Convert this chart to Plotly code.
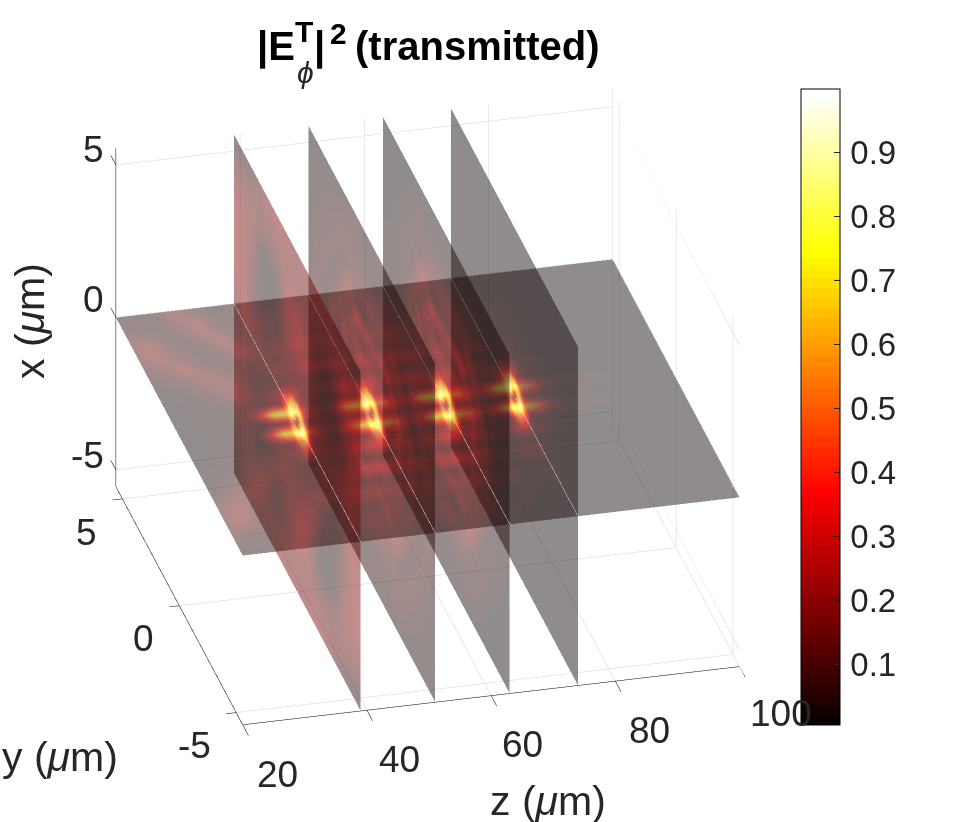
#!/usr/bin/env python3
"""|E_phi^T|^2 transmitted field: four z slices and the x=0 plane, hand-read from the picture."""
import numpy as np
import plotly.graph_objects as go

W, H = 959, 822

z_ticks = [20, 40, 60, 80, 100]
y_ticks = [5, 0, -5]
x_ticks = [5, 0, -5]
cbar_ticks = [0.1, 0.2, 0.3, 0.4, 0.5, 0.6, 0.7, 0.8, 0.9]
z_lim = [20, 100]
y_lim = [-5.57, 5.57]
x_lim = [-5.55, 5.55]
slice_z = [39, 51, 63, 74]

# nodes of the quarter of each slice (the pattern is mirrored about y=0 and x=0)
qy = [0, .45, .9, 1.4, 1.9, 2.4, 2.9, 3.4, 4, 4.7, 5.57]
qx = [0, .2, .4, .7, 1.2, 1.7, 2.2, 2.7, 3.3, 4.2, 5.55]

slice1 = [
    [.05, 1, .55, .14, .12, .1, .1, .12, .16, .2, .12],
    [.6, .95, .45, .12, .12, .1, .1, .12, .16, .18, .12],
    [1, .7, .2, .1, .12, .1, .1, .12, .16, .18, .12],
    [.35, .2, .12, .1, .1, .08, .08, .1, .14, .18, .14],
    [.12, .12, .12, .1, .08, .06, .06, .06, .1, .18, .18],
    [.14, .14, .14, .1, .06, .05, .04, .05, .1, .16, .2],
    [.2, .2, .16, .1, .05, .03, .03, .04, .1, .16, .2],
    [.24, .22, .18, .1, .04, .02, .02, .04, .12, .16, .22],
    [.24, .22, .18, .1, .04, .02, .02, .05, .14, .16, .2],
    [.14, .14, .14, .12, .1, .1, .1, .11, .14, .14, .12],
    [.15, .15, .16, .18, .18, .16, .14, .1, .06, .04, .03],
]
slice2 = [
    [.05, 1, .55, .14, .1, .18, .08, .14, .05, .08, .04],
    [.55, .95, .45, .12, .1, .18, .08, .14, .05, .08, .04],
    [1, .7, .2, .12, .1, .18, .08, .14, .05, .08, .04],
    [.35, .2, .14, .14, .12, .15, .1, .12, .05, .08, .04],
    [.2, .2, .22, .2, .1, .24, .08, .14, .05, .08, .04],
    [.15, .14, .1, .14, .22, .08, .14, .08, .06, .08, .03],
    [.2, .22, .24, .3, .1, .14, .1, .05, .07, .07, .03],
    [.12, .1, .09, .09, .18, .14, .05, .06, .08, .05, .02],
    [.14, .14, .12, .1, .1, .05, .07, .08, .06, .04, .02],
    [.05, .05, .06, .06, .08, .08, .07, .05, .04, .03, .02],
    [.05, .05, .04, .04, .03, .03, .02, .02, .02, .02, .02],
]
slice3 = [
    [.04, 1, .55, .14, .12, .2, .1, .12, .04, .03, .02],
    [.55, .95, .45, .12, .12, .2, .1, .12, .04, .03, .02],
    [1, .7, .2, .12, .12, .2, .1, .12, .04, .03, .02],
    [.35, .2, .14, .12, .14, .16, .12, .1, .04, .03, .02],
    [.2, .22, .24, .2, .1, .22, .08, .12, .04, .03, .02],
    [.14, .14, .1, .16, .22, .08, .16, .06, .04, .03, .02],
    [.22, .24, .26, .3, .1, .16, .1, .03, .04, .03, .02],
    [.1, .1, .08, .08, .2, .14, .04, .05, .04, .02, .01],
    [.14, .14, .12, .12, .1, .04, .06, .05, .02, .02, .01],
    [.04, .04, .04, .04, .05, .05, .04, .02, .02, .01, .01],
    [.02, .02, .02, .02, .02, .02, .01, .01, .01, .01, .01],
]
slice4 = [
    [.04, 1, .5, .08, .03, .03, .02, .02, .02, .01, .01],
    [.5, .95, .4, .07, .03, .03, .02, .02, .02, .01, .01],
    [1, .65, .15, .05, .03, .03, .02, .02, .02, .01, .01],
    [.25, .15, .07, .04, .03, .03, .02, .02, .02, .01, .01],
    [.05, .05, .04, .03, .03, .02, .02, .02, .01, .01, .01],
    [.03, .03, .03, .03, .02, .02, .02, .02, .01, .01, .01],
    [.03, .03, .03, .02, .02, .02, .02, .01, .01, .01, .01],
    [.02, .02, .02, .02, .02, .02, .01, .01, .01, .01, .01],
    [.02, .02, .02, .02, .01, .01, .01, .01, .01, .01, .01],
    [.01, .01, .01, .01, .01, .01, .01, .01, .01, .01, .01],
    [.01, .01, .01, .01, .01, .01, .01, .01, .01, .01, .01],
]

# the x=0 plane, half of it (y>=0, mirrored), rows follow qy
plane_z = [20, 23, 26, 29, 32, 34, 36, 38, 39, 40, 42, 44, 46, 48, 50, 51, 52, 54, 56, 58, 60, 62, 63, 64, 66, 68, 70, 72, 74, 75, 77, 79, 82, 90, 100]
plane_half = [
    [.02, .02, .03, .03, .04, .06, .1, .12, .08, .12, .1, .08, .1, .12, .14, .08, .14, .12, .08, .1, .14, .14, .08, .14, .12, .08, .1, .12, .08, .12, .08, .04, .02, .01, .01],
    [.02, .02, .03, .03, .06, .35, .78, .85, .95, .6, .22, .12, .3, .72, .85, .95, .72, .55, .18, .3, .72, .85, .95, .72, .55, .18, .35, .75, .95, .75, .55, .2, .05, .02, .01],
    [.02, .02, .03, .03, .05, .08, .1, .14, .45, .14, .1, .06, .08, .1, .14, .45, .14, .1, .06, .08, .1, .14, .45, .14, .1, .06, .08, .1, .4, .12, .08, .04, .02, .01, .01],
    [.02, .02, .03, .05, .12, .1, .1, .14, .2, .14, .14, .12, .2, .26, .28, .25, .26, .2, .1, .2, .26, .26, .22, .22, .18, .08, .1, .14, .16, .14, .1, .05, .02, .01, .01],
    [.02, .03, .05, .1, .14, .08, .06, .06, .06, .06, .06, .05, .06, .07, .08, .08, .08, .06, .05, .06, .07, .07, .07, .06, .05, .04, .04, .04, .04, .03, .03, .02, .01, .01, .01],
    [.03, .05, .08, .15, .08, .06, .06, .08, .1, .12, .14, .16, .24, .26, .2, .2, .2, .22, .1, .22, .24, .2, .18, .18, .14, .06, .06, .1, .1, .08, .05, .03, .01, .01, .01],
    [.05, .08, .16, .08, .05, .05, .06, .08, .1, .08, .08, .06, .06, .07, .07, .08, .07, .06, .05, .05, .06, .06, .06, .05, .04, .03, .03, .03, .03, .02, .02, .01, .01, .01, .01],
    [.08, .15, .1, .05, .05, .08, .16, .1, .08, .1, .14, .16, .14, .14, .12, .12, .12, .14, .08, .12, .14, .12, .1, .1, .08, .04, .03, .03, .03, .03, .02, .01, .01, .01, .01],
    [.12, .16, .06, .05, .08, .16, .08, .05, .05, .06, .06, .06, .05, .05, .05, .05, .05, .05, .04, .04, .05, .05, .05, .04, .03, .03, .02, .02, .02, .02, .02, .01, .01, .01, .01],
    [.08, .05, .05, .08, .17, .08, .04, .04, .06, .08, .1, .1, .08, .08, .07, .07, .07, .08, .05, .06, .07, .06, .05, .04, .03, .02, .02, .02, .02, .02, .01, .01, .01, .01, .01],
    [.04, .03, .04, .15, .06, .03, .03, .04, .05, .06, .06, .05, .04, .04, .04, .04, .04, .04, .03, .03, .03, .03, .02, .02, .02, .02, .01, .01, .01, .01, .01, .01, .01, .01, .01],
]

# MATLAB hot(64), stepped like the bands in the colorbar
hot = []
for i in range(64):
    r = min((i + 1) / 24, 1)
    g = min(max((i + 1 - 24) / 24, 0), 1)
    b = max((i + 1 - 48) / 16, 0)
    c = f"rgb({round(r * 255)},{round(g * 255)},{round(b * 255)})"
    hot.append([i / 64, c])
    hot.append([(i + 1) / 64, c])

CMIN, CMAX = 0.005, 1.0
ALPHA = 0.45
FLAT = dict(ambient=1, diffuse=0, specular=0, roughness=1, fresnel=0)
FONT = "Liberation Sans"
TXT = "#262626"

full_y = np.concatenate((-np.array(qy[:0:-1]), qy))


def mirror_y(m):
    m = np.array(m)
    return np.hstack((m[:, :0:-1], m))


def slice_trace(z0, vals, sign):
    xs = sign * np.array(qx)
    yy, xx = np.meshgrid(full_y, xs)
    return go.Surface(x=np.full(yy.shape, z0), y=yy, z=xx, surfacecolor=mirror_y(vals),
                      colorscale=hot, cmin=CMIN, cmax=CMAX, showscale=False, opacity=ALPHA,
                      lighting=FLAT, hoverinfo="skip")


def segs(lines, color, width):
    xs, ys, zs = [], [], []
    for a, b in lines:
        xs += [a[0], b[0], None]
        ys += [a[1], b[1], None]
        zs += [a[2], b[2], None]
    return go.Scatter3d(x=xs, y=ys, z=zs, mode="lines", line=dict(color=color, width=width),
                        hoverinfo="skip", showlegend=False)


# grid on the back walls
grid = []
for xv in x_ticks:
    grid.append(((z_lim[0], y_lim[1], xv), (z_lim[1], y_lim[1], xv)))
    grid.append(((z_lim[1], y_lim[0], xv), (z_lim[1], y_lim[1], xv)))
for zv in z_ticks[1:]:
    grid.append(((zv, y_lim[1], x_lim[0]), (zv, y_lim[1], x_lim[1])))
    grid.append(((zv, y_lim[0], x_lim[0]), (zv, y_lim[1], x_lim[0])))
for yv in y_ticks:
    grid.append(((z_lim[0], yv, x_lim[0]), (z_lim[1], yv, x_lim[0])))
    grid.append(((z_lim[1], yv, x_lim[0]), (z_lim[1], yv, x_lim[1])))

# axis lines and their ticks
axes = [
    ((z_lim[0], y_lim[1], x_lim[0]), (z_lim[0], y_lim[1], x_lim[1])),
    ((z_lim[0], y_lim[0], x_lim[0]), (z_lim[0], y_lim[1], x_lim[0])),
    ((z_lim[0], y_lim[0], x_lim[0]), (z_lim[1], y_lim[0], x_lim[0])),
]
for xv in x_ticks:
    axes.append(((z_lim[0], y_lim[1], xv), (z_lim[0], y_lim[1] + .45, xv)))
for yv in y_ticks:
    axes.append(((z_lim[0], yv, x_lim[0]), (z_lim[0] - 1.6, yv, x_lim[0])))
for zv in z_ticks:
    axes.append(((zv, y_lim[0], x_lim[0]), (zv, y_lim[0] - .5, x_lim[0])))

seams = [((z0, y_lim[0], 0), (z0, y_lim[1], 0)) for z0 in slice_z]

traces = [segs(grid, "#d4d4d4", 1), segs(axes, "#000000", 1), segs(seams, "#d8d0d0", 1)]

# back to front: lower halves, the plane, upper halves
slices = [slice1, slice2, slice3, slice4]
for z0, vals in reversed(list(zip(slice_z, slices))):
    traces.append(slice_trace(z0, vals, -1))
traces.append(go.Surface(
    x=plane_z, y=full_y, z=np.zeros((len(full_y), len(plane_z))),
    surfacecolor=np.vstack((np.array(plane_half)[:0:-1], plane_half)),
    colorscale=hot, cmin=CMIN, cmax=CMAX, opacity=ALPHA, lighting=FLAT, hoverinfo="skip",
    colorbar=dict(x=801 / W, xanchor="left", y=1 - 407 / H, yanchor="middle",
                  len=636, lenmode="pixels", thickness=39, thicknessmode="pixels",
                  tickvals=cbar_ticks, ticktext=[f"\u200a{t}" for t in cbar_ticks],
                  ticks="inside", ticklen=6, tickcolor="#262626", tickwidth=1,
                  outlinecolor="#000000", outlinewidth=1, borderwidth=0, xpad=0, ypad=0,
                  tickfont=dict(family=FONT, size=33, color=TXT))))
for z0, vals in reversed(list(zip(slice_z, slices))):
    traces.append(slice_trace(z0, vals, 1))

fig = go.Figure(traces)

# tick labels sit at their data position, shifted off the axis
scene_notes = []
for xv, dx, dy in zip(x_ticks, [-22, -22, -28], [15, 18, 14]):
    scene_notes.append(dict(x=z_lim[0], y=y_lim[1], z=xv, text=str(xv), dx=dx, dy=dy))
for yv, dx, dy in zip(y_ticks, [-36, -36, -42], [-34, -33, -33]):
    scene_notes.append(dict(x=z_lim[0], y=yv, z=x_lim[0], text=str(yv), dx=dx, dy=dy))
for zv, dx, dy in zip(z_ticks, [35, 33, 32, 34, 42], [-50, -49, -49, -49, -47]):
    scene_notes.append(dict(x=zv, y=y_lim[0], z=x_lim[0], text=str(zv), dx=dx, dy=dy))

annotations_3d = [dict(x=n["x"], y=n["y"], z=n["z"], text=n["text"], showarrow=False,
                       xshift=n["dx"], yshift=n["dy"], font=dict(family=FONT, size=37, color=TXT))
                  for n in scene_notes]


def note(px, py, text, size, bold=False, angle=0, anchor="center"):
    t = f"<b>{text}</b>" if bold else text
    return dict(x=px / W, y=1 - py / H, xref="paper", yref="paper", text=t, showarrow=False,
                xanchor=anchor, yanchor="middle", textangle=angle,
                font=dict(family=FONT, size=size, color="#000000" if bold else TXT))


annotations = [
    note(255, 46, "|E", 40, True, anchor="left"),
    note(304, 31, "T", 30, True),
    note(305, 72, "<i>ϕ</i>", 30),
    note(312, 46, "|", 40, True, anchor="left"),
    note(338, 34, "2", 30, True),
    note(353, 46, "(transmitted)", 40, True, anchor="left"),
    note(30, 321, "x (<i>μ</i>m)", 41, angle=-90),
    note(60, 757, "y (<i>μ</i>m)", 41),
    note(548, 801, "z (<i>μ</i>m)", 41),
]

hidden = dict(visible=False, showspikes=False)
fig.update_layout(
    width=W, height=H, autosize=False, margin=dict(l=0, r=0, t=0, b=0),
    paper_bgcolor="white", showlegend=False, annotations=annotations,
    scene=dict(
        domain=dict(x=[0, 0.8786], y=[0, 1]),
        bgcolor="white",
        xaxis=dict(range=[18, 100], **hidden),
        yaxis=dict(range=[-6.1, 6.1], **hidden),
        zaxis=dict(range=x_lim, **hidden),
        aspectmode="manual",
        aspectratio=dict(x=1.277, y=1.394, z=0.9326),
        camera=dict(projection=dict(type="orthographic"),
                    eye=dict(x=-0.429, y=-1.717, z=0.932),
                    up=dict(x=0, y=0, z=1), center=dict(x=0, y=0, z=-0.008)),
        annotations=annotations_3d,
    ),
)

fig.write_html("out.html", config=dict(displayModeBar=False),
               post_script="document.body.style.margin='0';")
